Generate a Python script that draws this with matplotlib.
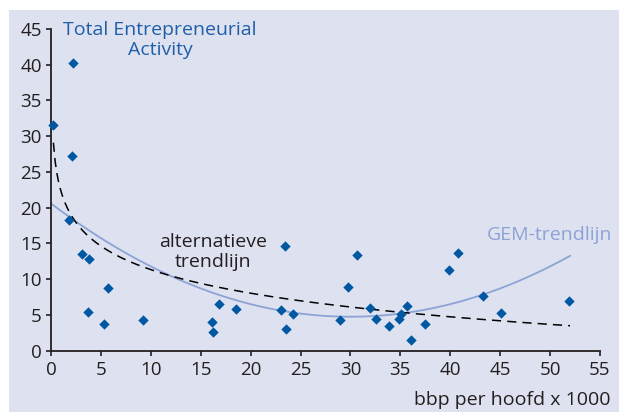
import numpy as np
import matplotlib.pyplot as plt
from matplotlib.patches import Rectangle

# bbp per hoofd (x 1000) and TEA (%) per country
bbp = [0.2, 2.2, 2.1, 1.8, 3.1, 3.8, 3.7, 5.7, 5.3, 9.2, 16.1, 16.2, 16.8, 18.5,
       23.0, 23.4, 23.5, 24.2, 29.0, 29.8, 30.7, 32.0, 32.6, 33.9, 34.9, 35.1,
       35.7, 36.1, 37.5, 39.9, 40.8, 43.3, 45.1, 51.9]
tea = [31.6, 40.3, 27.2, 18.3, 13.5, 12.8, 5.4, 8.8, 3.7, 4.25, 4.0, 2.6, 6.6, 5.8,
       5.65, 14.7, 3.0, 5.2, 4.3, 8.9, 13.4, 6.0, 4.5, 3.5, 4.4, 5.1,
       6.3, 1.5, 3.7, 11.3, 13.6, 7.7, 5.3, 7.0]

# trend lines as they appear in the picture
gem_coef = [0.0176, -1.056, 20.59]      # quadratic
alt_a, alt_b = 22.3, -4.76              # a + b*ln(x)

x_ticks = list(range(0, 60, 5))
y_ticks = list(range(0, 50, 5))

bg = '#dee1f0'
txt = '#231f20'
point_col = '#0058a3'
gem_col = '#8da3d6'
fs = 14

plt.rcParams['font.family'] = ['Open Sans', 'DejaVu Sans']

fig = plt.figure(figsize=(6.19, 4.12), dpi=100)
fig.patch.set_facecolor('white')
fig.add_artist(Rectangle((9 / 619, 0), 1, 402 / 412, transform=fig.transFigure,
                         facecolor=bg, edgecolor='none', zorder=0))

ax = fig.add_axes([51 / 619, 61.3 / 412, 549 / 619, 321.7 / 412])
ax.set_facecolor('none')

xs = np.linspace(0, 52, 200)
ax.plot(xs, np.polyval(gem_coef, xs), color=gem_col, lw=1.3, zorder=2)
xd = np.linspace(0.24, 52, 300)
ax.plot(xd, alt_a + alt_b * np.log(xd), color='black', lw=1.1,
        dashes=(6, 4), zorder=2)
ax.scatter(bbp, tea, marker='D', s=28, color=point_col, zorder=3,
           clip_on=False, linewidths=0)

ax.set_xlim(0, 55)
ax.set_ylim(0, 45)
ax.set_xticks(x_ticks)
ax.set_yticks(y_ticks)
for s in ['top', 'right']:
    ax.spines[s].set_visible(False)
for s in ['left', 'bottom']:
    ax.spines[s].set_linewidth(1.3)
    ax.spines[s].set_color(txt)
ax.tick_params(direction='out', length=3.5, width=1.2, color=txt,
               labelsize=13.5, labelcolor=txt, pad=3)
ax.tick_params(axis='x', pad=4)

fig.text(160 / 619, 1 - 40 / 412, 'Total Entrepreneurial\nActivity',
         ha='center', va='center', fontsize=fs, color='#1f5fa8',
         linespacing=1.15)
fig.text(213 / 619, 1 - 252 / 412, 'alternatieve\ntrendlijn',
         ha='center', va='center', fontsize=fs, color=txt, linespacing=1.15)
fig.text(549 / 619, 1 - 235 / 412, 'GEM-trendlijn', ha='center', va='center',
         fontsize=fs, color=gem_col)
fig.text(611 / 619, 1 - 400 / 412, 'bbp per hoofd x 1000', ha='right',
         va='center', fontsize=fs, color=txt)

fig.savefig('out.png', dpi=100, facecolor=fig.get_facecolor())
